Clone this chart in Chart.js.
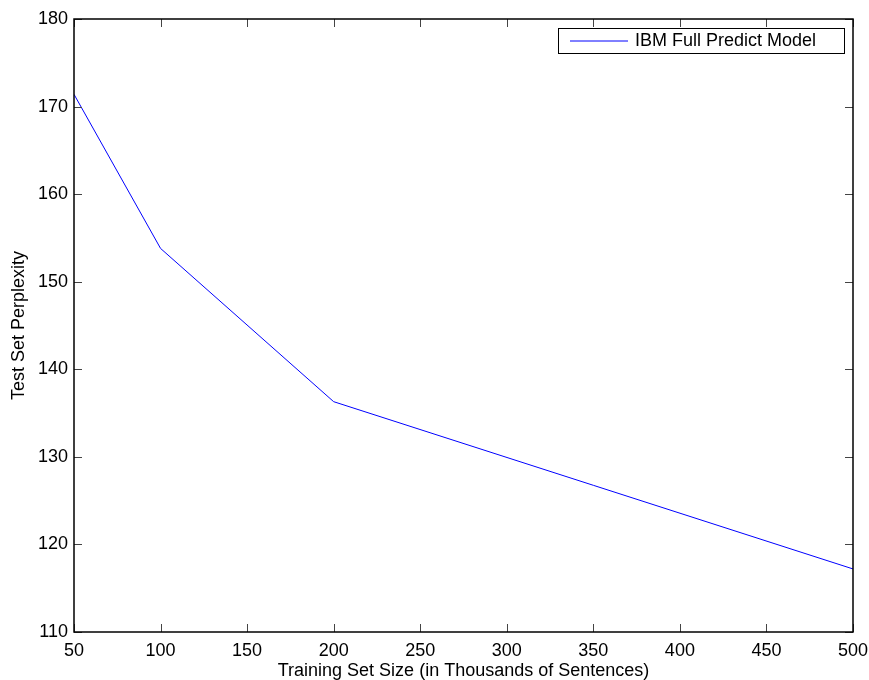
<!DOCTYPE html>
<html>
<head>
<meta charset="utf-8">
<script src="https://cdn.jsdelivr.net/npm/chart.js@4"></script>
<style>
html,body{margin:0;padding:0;background:#fff;}
#wrap{width:869px;height:680px;position:relative;}
</style>
</head>
<body>
<div id="wrap"><canvas id="c" width="869" height="680"></canvas></div>
<script>
const trainingSizes = [50, 100, 200, 500];
const perplexity = [171.4, 153.8, 136.3, 117.2];
const seriesLabel = 'IBM Full Predict Model';
const xTicks = [50, 100, 150, 200, 250, 300, 350, 400, 450, 500];
const yTicks = [110, 120, 130, 140, 150, 160, 170, 180];
const xTitle = 'Training Set Size (in Thousands of Sentences)';
const yTitle = 'Test Set Perplexity';

const FONT = 'Liberation Sans, Arial, Helvetica, sans-serif';
const FS = 18;

const boxPlugin = {
  id: 'matlabBox',
  afterDatasetsDraw(chart) {
    const {ctx, chartArea: a, scales} = chart;
    ctx.save();
    ctx.strokeStyle = '#444';
    ctx.lineWidth = 1;
    const L = 8;
    scales.x.ticks.forEach(t => {
      const px = Math.round(scales.x.getPixelForValue(t.value)) + 0.5;
      ctx.beginPath();
      ctx.moveTo(px, a.bottom); ctx.lineTo(px, a.bottom - L);
      ctx.moveTo(px, a.top); ctx.lineTo(px, a.top + L);
      ctx.stroke();
    });
    scales.y.ticks.forEach(t => {
      const py = Math.round(scales.y.getPixelForValue(t.value)) + 0.5;
      ctx.beginPath();
      ctx.moveTo(a.left, py); ctx.lineTo(a.left + L, py);
      ctx.moveTo(a.right, py); ctx.lineTo(a.right - L, py);
      ctx.stroke();
    });
    ctx.strokeStyle = '#000';
    ctx.lineWidth = 1.5;
    ctx.strokeRect(a.left, a.top, a.right - a.left, a.bottom - a.top);
    // legend
    const ds = chart.data.datasets[0];
    const lx = 558, ly = 28, lw = 286, lh = 25;
    ctx.fillStyle = '#fff';
    ctx.fillRect(lx, ly, lw, lh);
    ctx.strokeStyle = '#000';
    ctx.lineWidth = 1;
    ctx.strokeRect(lx + 0.5, ly + 0.5, lw, lh);
    ctx.strokeStyle = ds.borderColor;
    ctx.beginPath();
    ctx.moveTo(570, ly + lh / 2 + 0.5); ctx.lineTo(628, ly + lh / 2 + 0.5);
    ctx.stroke();
    ctx.fillStyle = '#000';
    ctx.font = FS + 'px ' + FONT;
    ctx.textBaseline = 'middle';
    ctx.textAlign = 'left';
    ctx.fillText(ds.label, 635, ly + lh / 2 + 1);
    ctx.restore();
  }
};

new Chart(document.getElementById('c'), {
  type: 'line',
  data: {
    datasets: [{
      label: seriesLabel,
      data: trainingSizes.map((x, i) => ({x: x, y: perplexity[i]})),
      borderColor: '#0000ff',
      borderWidth: 1,
      pointRadius: 0,
      fill: false,
      tension: 0
    }]
  },
  options: {
    responsive: false,
    animation: false,
    devicePixelRatio: 1,
    layout: {padding: {top: 19, right: 16, left: 0, bottom: 0}},
    plugins: {legend: {display: false}, tooltip: {enabled: false}},
    scales: {
      x: {
        type: 'linear',
        min: xTicks[0], max: xTicks[xTicks.length - 1],
        afterBuildTicks: s => { s.ticks = xTicks.map(v => ({value: v})); },
        afterFit: s => { s.height = 48; s.paddingRight = 0; s.paddingLeft = 0; },
        grid: {display: false, drawTicks: false},
        border: {display: false},
        ticks: {color: '#000', font: {size: FS, family: FONT}, padding: 8, maxRotation: 0, autoSkip: false},
        title: {display: true, text: xTitle, color: '#000', font: {size: FS, family: FONT}, padding: {top: 0, bottom: -2}}
      },
      y: {
        type: 'linear',
        min: yTicks[0], max: yTicks[yTicks.length - 1],
        afterBuildTicks: s => { s.ticks = yTicks.map(v => ({value: v})); },
        afterFit: s => { s.width = 74; s.paddingTop = 0; s.paddingBottom = 0; },
        grid: {display: false, drawTicks: false},
        border: {display: false},
        ticks: {color: '#000', font: {size: FS, family: FONT}, padding: 6, autoSkip: false},
        title: {display: true, text: yTitle, color: '#000', font: {size: FS, family: FONT}, padding: {top: 8, bottom: 4}}
      }
    }
  },
  plugins: [boxPlugin]
});
</script>
</body>
</html>
